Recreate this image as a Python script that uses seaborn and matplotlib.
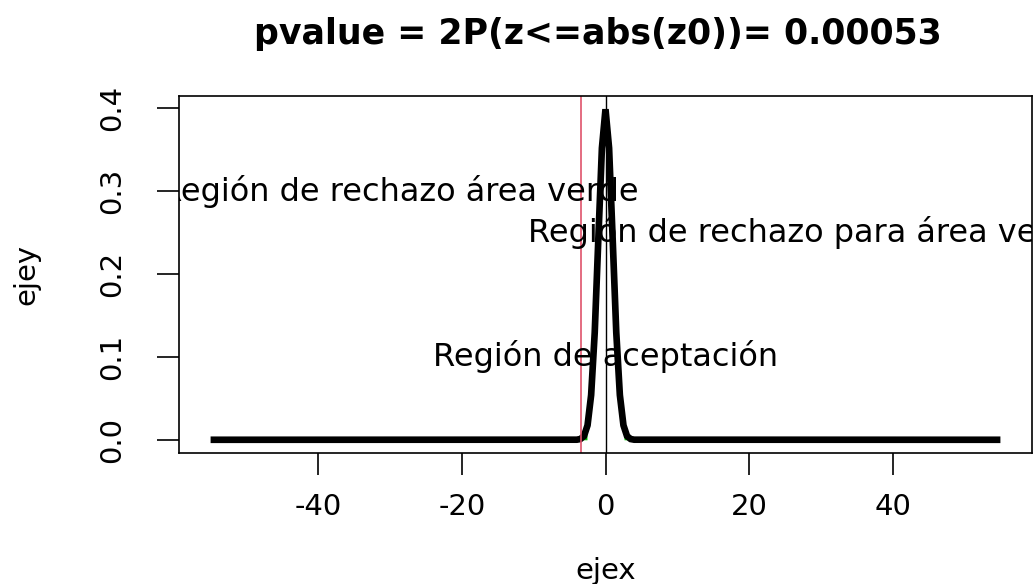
import matplotlib
matplotlib.use("Agg")
import matplotlib.pyplot as plt
import seaborn as sns
import pandas as pd

# ---- data ----
curve_x = [-55, -4, -3.5, -3, -2.5, -2, -1.5, -1, -0.5, 0, 0.5, 1, 1.5, 2, 2.5, 3, 3.5, 4, 55]
curve_y = [0.0, 0.0001, 0.0009, 0.0044, 0.0175, 0.054, 0.1295, 0.242, 0.352, 0.3989,
           0.352, 0.242, 0.1295, 0.054, 0.0175, 0.0044, 0.0009, 0.0001, 0.0]
left_tail_x = [-55, -4, -3.5, -3, -2.58]
left_tail_y = [0.0, 0.0001, 0.0009, 0.0044, 0.0143]
right_tail_x = [2.58, 3, 3.5, 4, 55]
right_tail_y = [0.0143, 0.0044, 0.0009, 0.0001, 0.0]
z0 = -3.465
x_ticks = [-40, -20, 0, 20, 40]
y_ticks = [0.0, 0.1, 0.2, 0.3, 0.4]
y_ticklabels = ["0.0", "0.1", "0.2", "0.3", "0.4"]
title_text = "pvalue = 2P(z<=abs(z0))= 0.00053"
labels_text = ["Región de rechazo área verde", "Región de rechazo para área verde", "Región de aceptación"]
labels_x = [-28.7, 28.3, 0.0]
labels_y = [0.30, 0.25, 0.10]

sns.set_theme(style="white")
plt.rcParams["font.family"] = ["DejaVu Sans"]
plt.rcParams["text.color"] = "black"
plt.rcParams["axes.labelcolor"] = "black"

fig = plt.figure(figsize=(10.34, 5.84), dpi=100)
ax = fig.add_axes([179/1034, 1 - 453/584, (1032 - 179)/1034, (453 - 96)/584])

df = pd.DataFrame({"x": curve_x, "y": curve_y})
ax.fill_between(left_tail_x, left_tail_y, 0, color="#00cc00", linewidth=0)
ax.fill_between(right_tail_x, right_tail_y, 0, color="#00cc00", linewidth=0)
sns.lineplot(data=df, x="x", y="y", ax=ax, color="black", linewidth=4.8, sort=False,
             solid_joinstyle="miter", solid_capstyle="butt")
ax.axvline(z0, color="#DF536B", linewidth=1.2)
ax.axvline(0, color="black", linewidth=1.0)

for t, xx, yy in zip(labels_text, labels_x, labels_y):
    ax.text(xx, yy, t, ha="center", va="center", fontsize=23, color="black", clip_on=True)

ax.set_xlim(-59.4, 59.4)
ax.set_ylim(-0.01596, 0.41486)
ax.set_xticks(x_ticks)
ax.set_xticklabels([str(v) for v in x_ticks])
ax.set_yticks(y_ticks)
ax.set_yticklabels(y_ticklabels, rotation=90, va="center")
ax.tick_params(axis="both", direction="out", length=16, width=1.2, colors="black",
               labelsize=21, bottom=True, left=True, labelcolor="black")
ax.tick_params(axis="x", pad=13)
ax.tick_params(axis="y", pad=22)
for s in ax.spines.values():
    s.set_color("black")
    s.set_linewidth(1.2)
ax.set_xlabel("ejex", fontsize=21, labelpad=26, color="black")
ax.set_ylabel("ejey", fontsize=21, labelpad=42, color="black")
ax.grid(False)

fig.text(598/1034, 1 - 34/584, title_text, ha="center", va="center", fontsize=25,
         fontweight="bold", color="black")

fig.savefig("out.png", dpi=100)
